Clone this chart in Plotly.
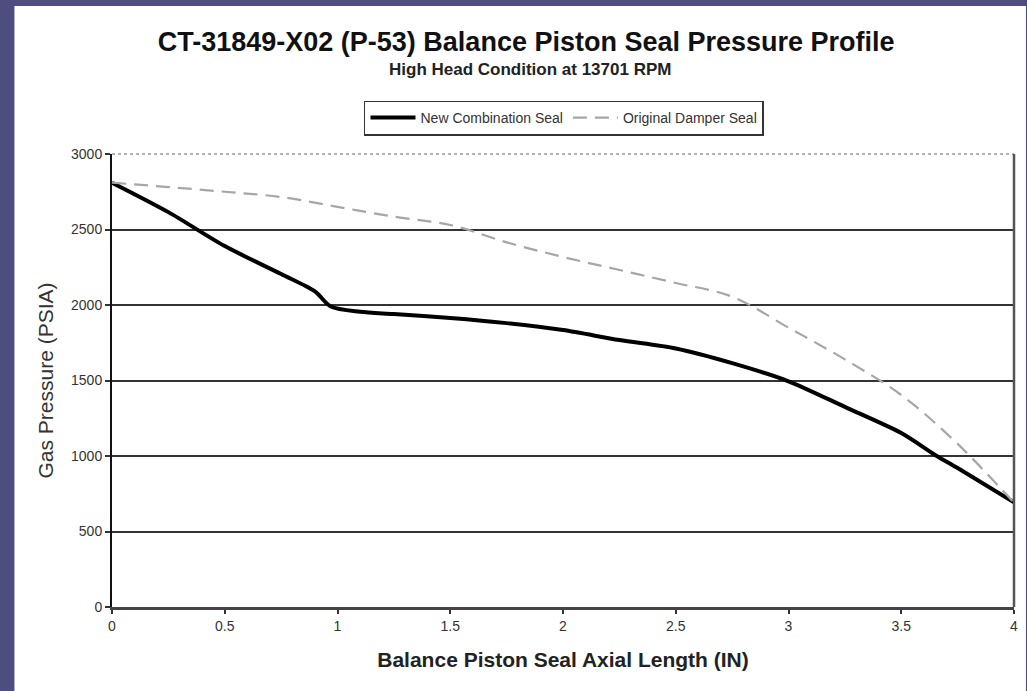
import plotly.graph_objects as go

# Data
x_new = [0, 0.25, 0.5, 0.75, 0.9, 0.97, 1.1, 1.25, 1.5, 1.75, 2.0, 2.25, 2.5, 2.75, 3.0, 3.25, 3.5, 3.65, 3.75, 4.0]
y_new = [2810, 2615, 2390, 2205, 2090, 1990, 1955, 1940, 1914, 1880, 1834, 1768, 1712, 1615, 1495, 1325, 1152, 1007, 920, 693]

x_orig = [0, 0.25, 0.5, 0.75, 1.0, 1.25, 1.5, 1.75, 2.0, 2.25, 2.5, 2.75, 3.0, 3.25, 3.5, 3.75, 4.0]
y_orig = [2810, 2781, 2750, 2715, 2650, 2585, 2530, 2415, 2318, 2232, 2146, 2055, 1850, 1640, 1404, 1080, 690]

x_ticks = [0, 0.5, 1, 1.5, 2, 2.5, 3, 3.5, 4]
x_ticklabels = ["0", "0.5", "1", "1.5", "2", "2.5", "3", "3.5", "4"]
y_ticks = [0, 500, 1000, 1500, 2000, 2500, 3000]

TITLE = "CT-31849-X02 (P-53) Balance Piston Seal Pressure Profile"
SUBTITLE = "High Head Condition at 13701 RPM"

FONT = "Liberation Sans, Arial, sans-serif"

fig = go.Figure()
fig.add_trace(go.Scatter(
    x=x_new, y=y_new, mode="lines", name="New Combination Seal",
    line=dict(color="black", width=4, shape="spline", smoothing=0.8),
))
fig.add_trace(go.Scatter(
    x=x_orig, y=y_orig, mode="lines", name="Original Damper Seal",
    line=dict(color="#a6a6a6", width=2.2, dash="14px,8px", shape="spline", smoothing=1.0),
))

L, R, T, B = 112, 9, 154, 84
W, H = 1027, 691
pw, ph = W - L - R, H - T - B

def px_x(p):
    return (p - L) / pw

def px_y(p):
    return (H - B - p) / ph

shapes = [
    # white slide panel
    dict(type="rect", xref="paper", yref="paper", layer="below",
         x0=px_x(14), x1=px_x(1030), y0=px_y(694), y1=px_y(6),
         fillcolor="white", line=dict(width=0)),
    # top dotted border
    dict(type="line", xref="paper", yref="paper", x0=0, x1=1, y0=1, y1=1,
         line=dict(color="#9a9a9a", width=1.5, dash="dot")),
    # right border
    dict(type="line", xref="paper", yref="paper", x0=1, x1=1, y0=0, y1=1,
         line=dict(color="#555555", width=2.5)),
]

annotations = [
    dict(text="<b>" + SUBTITLE + "</b>", xref="paper", yref="paper",
         x=px_x(532), y=px_y(70), xanchor="center", yanchor="middle",
         showarrow=False, font=dict(family=FONT, size=17, color="#222222")),
]

fig.update_layout(
    width=W, height=H,
    margin=dict(l=L, r=R, t=T, b=B, pad=0),
    paper_bgcolor="#4e4d80",
    plot_bgcolor="white",
    shapes=shapes,
    annotations=annotations,
    title=dict(
        text="<b>" + TITLE + "</b>",
        x=px_x(528), xanchor="center", xref="paper",
        y=1 - 42 / H, yanchor="middle",
        font=dict(family=FONT, size=27, color="#111111"),
    ),
    legend=dict(
        orientation="h", x=px_x(566), xanchor="center", y=px_y(118), yanchor="middle",
        bordercolor="#333333", borderwidth=1.5, bgcolor="white",
        font=dict(family=FONT, size=14, color="#333333"),
        itemwidth=45, tracegroupgap=0,
    ),
    showlegend=True,
)

fig.update_xaxes(
    range=[0, 4], tickvals=x_ticks, ticktext=x_ticklabels,
    showgrid=False, zeroline=False,
    showline=True, linecolor="#444444", linewidth=2.5,
    ticks="outside", ticklen=4, tickcolor="#333333", tickwidth=1.5,
    tickfont=dict(family=FONT, size=14, color="#333333"),
    title=dict(text="<b>Balance Piston Seal Axial Length (IN)</b>",
               font=dict(family=FONT, size=21, color="#222222"), standoff=20),
)
fig.update_yaxes(
    range=[0, 3000], tickvals=y_ticks,
    showgrid=True, gridcolor="#333333", gridwidth=2,
    zeroline=False,
    showline=True, linecolor="#111111", linewidth=2,
    ticks="outside", ticklen=5, tickcolor="#333333", tickwidth=1.5,
    tickfont=dict(family=FONT, size=14, color="#333333"),
    title=dict(text="Gas Pressure (PSIA)",
               font=dict(family=FONT, size=21, color="#333333"), standoff=12),
)

fig.write_html("out.html")
